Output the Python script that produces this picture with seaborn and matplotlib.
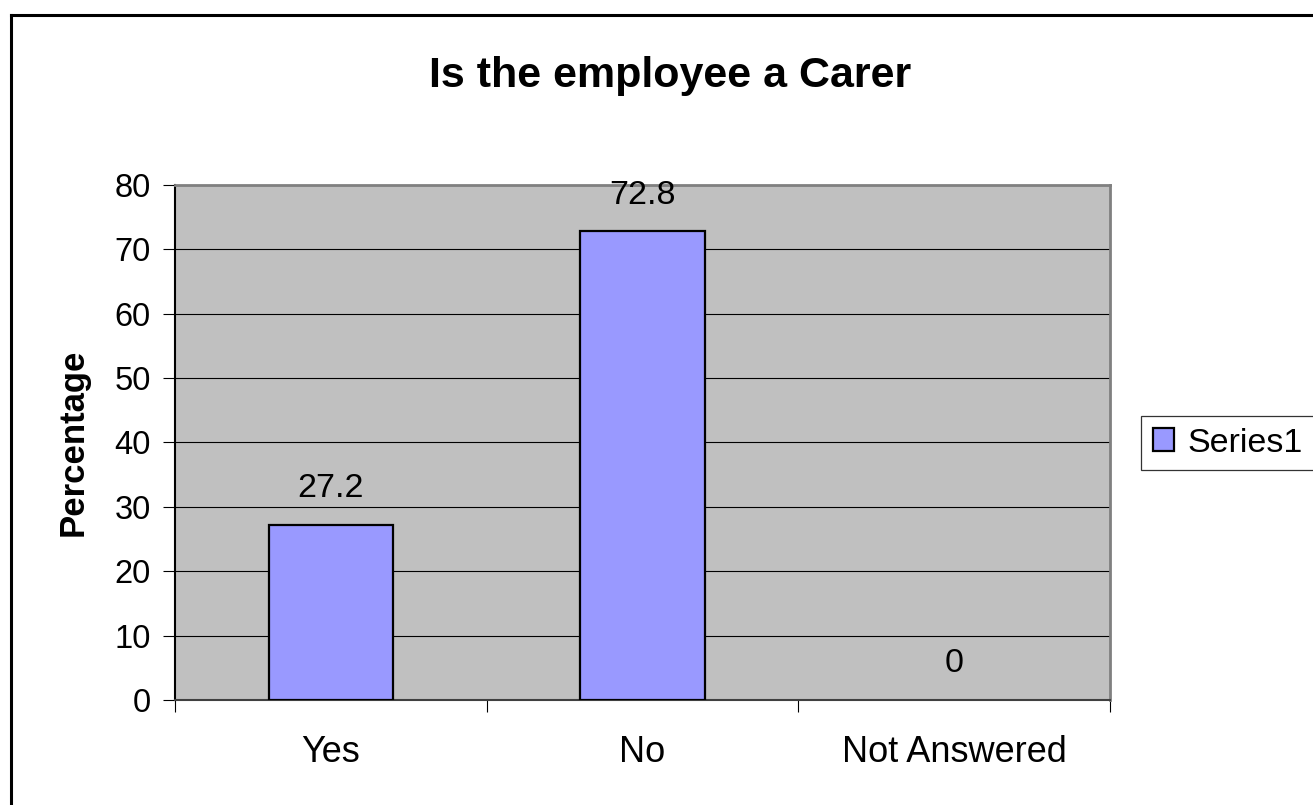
import matplotlib
matplotlib.use("Agg")
import matplotlib.pyplot as plt
import seaborn as sns
import pandas as pd
from matplotlib.patches import Patch
from matplotlib.lines import Line2D

# chart data
categories = ["Yes", "No", "Not Answered"]
percentages = [27.2, 72.8, 0]
series_name = "Series1"
y_ticks = [0, 10, 20, 30, 40, 50, 60, 70, 80]

plt.rcParams['font.family'] = ['Liberation Sans', 'DejaVu Sans']

df = pd.DataFrame({'category': categories, 'pct': percentages})

fig = plt.figure(figsize=(13.13, 8.05), dpi=100)
ax = fig.add_axes([175 / 1313, 1 - 700 / 805, 935 / 1313, 515 / 805])
ax.set_facecolor('#C0C0C0')

sns.barplot(data=df, x='category', y='pct', color='#9999FF', saturation=1,
            width=0.4, edgecolor='black', linewidth=1.6, ax=ax, zorder=3)
# a zero-height bar shows nothing in the original
for p in ax.patches:
    if p.get_height() == 0:
        p.set_linewidth(0)
ax.bar_label(ax.containers[0], labels=[f"{v:g}" for v in percentages],
             padding=15, fontsize=24.5)

# axes and grid
ax.set_ylim(0, 80)
ax.set_xlim(-0.5, 2.5)
ax.set_yticks(y_ticks)
ax.yaxis.grid(True, color='black', linewidth=0.8, zorder=1)
ax.set_axisbelow(True)
ax.tick_params(axis='y', labelsize=23.5, length=8.6, width=0.8, direction='out', pad=9)
ax.tick_params(axis='x', which='major', labelsize=26, length=0, pad=25)
ax.set_xticks([-0.5, 0.5, 1.5, 2.5], minor=True)
ax.tick_params(axis='x', which='minor', length=8.6, width=0.8, direction='out')
ax.set_xlabel('')
ax.set_ylabel('Percentage', fontsize=25, fontweight='bold', labelpad=18)

ax.spines['left'].set_color('black')
ax.spines['left'].set_linewidth(1.5)
ax.spines['bottom'].set_color('#404040')
ax.spines['bottom'].set_linewidth(1.5)
for s in ['top', 'right']:
    ax.spines[s].set_color('#808080')
    ax.spines[s].set_linewidth(2)

# title
fig.text(670 / 1313, 1 - 87 / 805, 'Is the employee a Carer', fontsize=31,
         fontweight='bold', ha='center', va='baseline')

# legend
handle = Patch(facecolor='#9999FF', edgecolor='black', linewidth=1.6, label=series_name)
leg = fig.legend(handles=[handle], loc='center left',
                 bbox_to_anchor=(1141 / 1313, 1 - 443 / 805), fontsize=24.5,
                 frameon=True, fancybox=False, shadow=False, borderpad=0.35,
                 handlelength=0.62, handleheight=0.62, handletextpad=0.4,
                 borderaxespad=0)
leg.get_frame().set_edgecolor('black')
leg.get_frame().set_linewidth(0.9)

# outer chart border (left and top edges visible)
fig.add_artist(Line2D([11 / 1313, 11 / 1313], [0, 1 - 15 / 805], color='black', linewidth=2.2))
fig.add_artist(Line2D([11 / 1313, 1], [1 - 15 / 805, 1 - 15 / 805], color='black', linewidth=2.2))

fig.savefig('out.png', dpi=100)
